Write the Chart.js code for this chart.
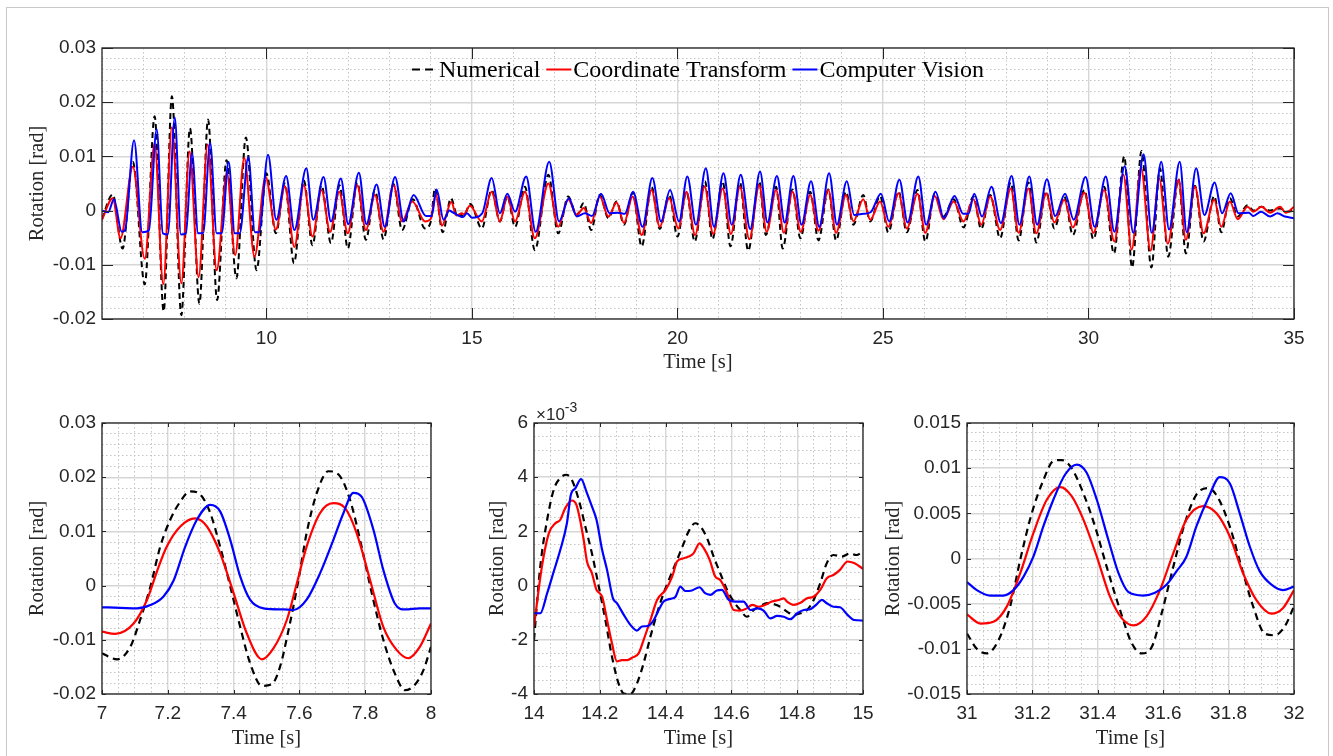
<!DOCTYPE html>
<html>
<head>
<meta charset="utf-8">
<script src="https://cdn.jsdelivr.net/npm/chart.js@4.4.1/dist/chart.umd.min.js"></script>
<style>
  html, body { margin: 0; padding: 0; background: #fff; }
  #fig { position: relative; width: 1333px; height: 756px; overflow: hidden; background: #fff; }
  #frame { position: absolute; left: 6px; top: 7px; width: 1323px; height: 800px; border: 1px solid #c8c8c8; box-sizing: border-box; }
  canvas { position: absolute; }
</style>
</head>
<body>
<div id="fig">
  <div id="frame"></div>
  <canvas id="cTop" width="1333" height="380" style="left:0;top:0"></canvas>
  <canvas id="c1" width="450" height="376" style="left:0;top:380px"></canvas>
  <canvas id="c2" width="440" height="376" style="left:450px;top:380px"></canvas>
  <canvas id="c3" width="453" height="376" style="left:880px;top:380px"></canvas>
</div>
<script>
// ---------- legend labels ----------
const seriesNames = ['Numerical', 'Coordinate Transform', 'Computer Vision'];

// ---------- full record, 6-35 s (peaks and troughs) ----------
const topNumT = [6.00,6.26,6.50,6.75,7.04,7.28,7.50,7.70,7.93,8.14,8.37,8.58,8.80,9.03,9.27,9.50,9.76,10.00,10.23,10.45,10.67,10.91,11.12,11.34,11.57,11.78,11.98,12.21,12.42,12.64,12.85,13.09,13.30,13.56,13.86,14.00,14.10,14.29,14.49,14.65,14.71,14.79,14.96,15.24,15.48,15.68,15.86,16.05,16.29,16.53,16.86,17.10,17.34,17.55,17.72,17.90,18.11,18.32,18.52,18.70,18.91,19.13,19.37,19.57,19.80,20.00,20.22,20.42,20.67,20.85,21.10,21.29,21.52,21.72,21.99,22.15,22.40,22.56,22.80,22.99,23.23,23.43,23.67,23.86,24.10,24.28,24.52,24.69,24.93,25.13,25.38,25.58,25.84,26.03,26.26,26.47,26.72,26.96,27.20,27.39,27.61,27.85,28.11,28.30,28.54,28.73,28.97,29.17,29.41,29.62,29.90,30.12,30.38,30.62,30.87,31.06,31.29,31.53,31.74,31.94,32.19,32.37,32.59,32.80,33.06,33.23,33.44,33.63,33.87,34.01,34.21,34.42,34.66,34.85,35.00];
const topNumV = [-0.0015,0.0030,-0.0070,0.0090,-0.0136,0.0174,-0.0186,0.0211,-0.0193,0.0152,-0.0172,0.0168,-0.0165,0.0093,-0.0125,0.0135,-0.0110,0.0069,-0.0042,0.0050,-0.0097,0.0056,-0.0064,0.0047,-0.0060,0.0047,-0.0070,0.0052,-0.0054,0.0038,-0.0053,0.0049,-0.0036,0.0021,-0.0033,-0.0020,0.0041,-0.0040,0.0023,-0.0011,-0.0007,-0.0011,0.0012,-0.0033,0.0038,-0.0020,0.0026,-0.0030,0.0044,-0.0073,0.0066,-0.0042,0.0026,-0.0008,0.0014,-0.0036,0.0029,-0.0014,0.0017,-0.0026,0.0033,-0.0066,0.0044,-0.0034,0.0029,-0.0048,0.0035,-0.0057,0.0054,-0.0053,0.0054,-0.0066,0.0052,-0.0074,0.0054,-0.0045,0.0044,-0.0070,0.0039,-0.0051,0.0035,-0.0055,0.0039,-0.0055,0.0035,-0.0026,0.0029,-0.0020,0.0027,-0.0040,0.0035,-0.0040,0.0038,-0.0057,0.0031,-0.0011,0.0021,-0.0031,0.0026,-0.0034,0.0029,-0.0051,0.0052,-0.0055,0.0052,-0.0059,0.0035,-0.0033,0.0026,-0.0045,0.0038,-0.0053,0.0044,-0.0079,0.0100,-0.0105,0.0110,-0.0105,0.0078,-0.0085,0.0058,-0.0079,0.0046,-0.0057,0.0027,-0.0040,0.0023,-0.0011,0.0010,0.0000,0.0007,0.0000,0.0004,-0.0002,0.0000];

const topCtT = [6.00,6.26,6.45,6.75,7.04,7.28,7.49,7.70,7.93,8.13,8.35,8.57,8.79,9.04,9.24,9.46,9.71,9.98,10.23,10.45,10.68,10.91,11.12,11.34,11.55,11.77,11.98,12.21,12.42,12.64,12.85,13.09,13.30,13.55,13.86,14.00,14.12,14.27,14.50,14.62,14.76,14.80,14.95,15.24,15.48,15.68,15.86,16.05,16.29,16.53,16.86,17.10,17.34,17.55,17.72,17.90,18.11,18.32,18.52,18.70,18.91,19.13,19.37,19.57,19.80,20.02,20.22,20.43,20.66,20.87,21.10,21.30,21.52,21.75,21.99,22.17,22.40,22.59,22.80,23.00,23.23,23.43,23.67,23.86,24.10,24.28,24.52,24.69,24.93,25.13,25.38,25.58,25.84,26.03,26.26,26.47,26.72,26.96,27.20,27.39,27.61,27.85,28.11,28.30,28.54,28.73,28.97,29.17,29.41,29.62,29.90,30.12,30.38,30.63,30.85,31.05,31.28,31.51,31.72,31.93,32.19,32.37,32.59,32.80,33.06,33.23,33.44,33.63,33.87,34.01,34.21,34.42,34.66,34.80,35.00];
const topCtV = [-0.0017,0.0023,-0.0051,0.0081,-0.0089,0.0124,-0.0136,0.0154,-0.0134,0.0109,-0.0123,0.0122,-0.0110,0.0070,-0.0082,0.0097,-0.0085,0.0062,-0.0035,0.0045,-0.0067,0.0047,-0.0048,0.0038,-0.0039,0.0035,-0.0042,0.0047,-0.0036,0.0029,-0.0039,0.0047,-0.0020,0.0017,-0.0020,-0.0015,0.0031,-0.0028,0.0016,-0.0009,-0.0005,-0.0007,0.0009,-0.0020,0.0035,-0.0020,0.0026,-0.0020,0.0035,-0.0051,0.0050,-0.0030,0.0021,-0.0008,0.0005,-0.0023,0.0026,-0.0011,0.0015,-0.0023,0.0026,-0.0045,0.0038,-0.0030,0.0023,-0.0033,0.0035,-0.0045,0.0044,-0.0043,0.0041,-0.0043,0.0044,-0.0053,0.0047,-0.0039,0.0038,-0.0041,0.0035,-0.0039,0.0029,-0.0037,0.0038,-0.0041,0.0029,-0.0020,0.0021,-0.0017,0.0017,-0.0030,0.0032,-0.0033,0.0031,-0.0041,0.0027,-0.0016,0.0017,-0.0020,0.0021,-0.0026,0.0026,-0.0036,0.0041,-0.0041,0.0041,-0.0042,0.0032,-0.0022,0.0020,-0.0031,0.0033,-0.0041,0.0038,-0.0057,0.0066,-0.0072,0.0079,-0.0074,0.0059,-0.0061,0.0057,-0.0054,0.0044,-0.0042,0.0020,-0.0030,0.0017,-0.0016,0.0007,-0.0002,0.0007,-0.0004,0.0007,-0.0004,0.0007];

const topCvT = [6.00,6.15,6.29,6.48,6.56,6.78,6.98,7.14,7.33,7.48,7.60,7.77,7.92,8.04,8.19,8.34,8.46,8.63,8.79,8.91,9.08,9.23,9.35,9.56,9.72,9.82,10.04,10.24,10.48,10.68,10.97,11.14,11.39,11.57,11.81,11.99,12.25,12.43,12.68,12.88,13.13,13.34,13.58,13.88,14.02,14.14,14.31,14.45,14.53,14.78,14.88,15.00,15.25,15.48,15.68,15.86,16.05,16.32,16.55,16.88,17.12,17.36,17.55,17.75,17.92,18.14,18.35,18.55,18.72,18.92,19.15,19.39,19.60,19.82,20.04,20.24,20.45,20.69,20.89,21.12,21.32,21.54,21.77,22.01,22.19,22.42,22.61,22.82,23.02,23.25,23.45,23.69,23.88,24.12,24.30,24.52,24.70,24.95,25.15,25.40,25.60,25.86,26.05,26.28,26.48,26.74,26.95,27.08,27.22,27.41,27.64,27.87,28.13,28.32,28.56,28.75,28.99,29.19,29.43,29.64,29.93,30.15,30.42,30.63,30.88,31.09,31.34,31.54,31.77,31.96,32.22,32.39,32.62,32.82,33.07,33.25,33.46,33.65,33.90,34.01,34.20,34.42,34.60,34.78,35.00];
const topCvV = [0.0000,-0.0003,0.0021,-0.0039,-0.0036,0.0130,-0.0040,-0.0037,0.0150,-0.0042,-0.0044,0.0172,-0.0044,-0.0042,0.0106,-0.0042,-0.0042,0.0125,-0.0042,-0.0042,0.0090,-0.0042,-0.0042,0.0099,-0.0040,-0.0040,0.0103,-0.0017,0.0064,-0.0036,0.0078,-0.0017,0.0062,-0.0020,0.0059,-0.0025,0.0070,-0.0025,0.0048,-0.0030,0.0062,-0.0020,0.0029,-0.0010,-0.0010,0.0039,-0.0017,0.0000,-0.0003,-0.0012,-0.0005,-0.0013,-0.0005,0.0060,-0.0005,0.0031,-0.0002,0.0063,-0.0039,0.0090,-0.0020,0.0023,-0.0011,-0.0005,-0.0010,0.0031,-0.0005,-0.0004,-0.0006,0.0035,-0.0030,0.0060,-0.0020,0.0038,-0.0020,0.0063,-0.0026,0.0078,-0.0030,0.0069,-0.0026,0.0066,-0.0034,0.0072,-0.0022,0.0064,-0.0022,0.0064,-0.0026,0.0054,-0.0030,0.0069,-0.0026,0.0054,-0.0008,-0.0006,-0.0003,0.0031,-0.0020,0.0057,-0.0022,0.0063,-0.0026,0.0035,-0.0014,0.0027,-0.0006,-0.0006,0.0031,-0.0011,0.0044,-0.0023,0.0064,-0.0026,0.0063,-0.0026,0.0058,-0.0010,0.0031,-0.0017,0.0062,-0.0030,0.0063,-0.0039,0.0082,-0.0041,0.0104,-0.0041,0.0090,-0.0035,0.0090,-0.0040,0.0078,-0.0008,0.0052,-0.0005,0.0032,-0.0005,-0.0004,-0.0010,-0.0002,-0.0011,-0.0005,-0.0011,-0.0014];

// ---------- window 7-8 s ----------
const w1NumT = [7.0,7.046,7.086,7.116,7.147,7.177,7.207,7.238,7.268,7.299,7.329,7.359,7.39,7.42,7.45,7.486,7.516,7.541,7.567,7.597,7.622,7.653,7.688,7.719,7.754,7.789,7.82,7.855,7.89,7.921,7.951,7.977,8.0];
const w1NumV = [-0.0125,-0.0136,-0.0113,-0.0063,-0.0002,0.0072,0.0121,0.0155,0.0174,0.0168,0.0134,0.0072,-0.0002,-0.0076,-0.0143,-0.0185,-0.0182,-0.015,-0.0082,0.001,0.0097,0.0171,0.0211,0.0205,0.0158,0.0072,-0.0014,-0.01,-0.0162,-0.0193,-0.0183,-0.0156,-0.0113];
const w1CtT = [7.0,7.04,7.096,7.137,7.167,7.197,7.238,7.283,7.319,7.359,7.4,7.44,7.486,7.521,7.562,7.592,7.622,7.663,7.703,7.739,7.774,7.815,7.855,7.896,7.931,7.966,8.0];
const w1CtV = [-0.0085,-0.0089,-0.007,-0.0026,0.0026,0.0072,0.0109,0.0124,0.0109,0.006,-0.0014,-0.0088,-0.0136,-0.0116,-0.0063,0.0004,0.0072,0.0134,0.0152,0.0143,0.0097,0.001,-0.0076,-0.0119,-0.0134,-0.0113,-0.007];
const w1CvT = [7.0,7.056,7.106,7.147,7.187,7.218,7.253,7.288,7.329,7.359,7.39,7.42,7.45,7.491,7.552,7.582,7.622,7.663,7.703,7.734,7.764,7.789,7.825,7.855,7.89,7.921,7.966,8.0];
const w1CvV = [-0.004,-0.0041,-0.0042,-0.0036,-0.002,0.001,0.0072,0.0121,0.0149,0.0137,0.0084,0.0017,-0.0026,-0.0042,-0.0044,-0.0045,-0.0026,0.0023,0.0084,0.0134,0.0171,0.0164,0.0103,0.0029,-0.0033,-0.0044,-0.0042,-0.0042];

// ---------- window 14-15 s ----------
const w2NumT = [14.0,14.019,14.04,14.06,14.08,14.098,14.115,14.136,14.156,14.176,14.197,14.217,14.237,14.257,14.273,14.293,14.313,14.333,14.354,14.374,14.394,14.414,14.435,14.455,14.47,14.49,14.506,14.526,14.546,14.566,14.587,14.607,14.627,14.647,14.668,14.688,14.708,14.728,14.749,14.769,14.789,14.81,14.83,14.85,14.87,14.89,14.91,14.936,14.96,14.98,15.0];
const w2NumV = [-0.00200,0.00070,0.00243,0.00354,0.00397,0.00409,0.00390,0.00317,0.00218,0.00119,-0.00004,-0.00127,-0.00262,-0.00361,-0.00398,-0.00400,-0.00361,-0.00287,-0.00188,-0.00102,-0.00028,0.00033,0.00095,0.00156,0.00200,0.00230,0.00218,0.00175,0.00107,0.00046,-0.00016,-0.00059,-0.00090,-0.00115,-0.00090,-0.00075,-0.00065,-0.00068,-0.00078,-0.00096,-0.00108,-0.00102,-0.00090,-0.00053,0.00009,0.00083,0.00113,0.00107,0.00119,0.00113,0.00126];
const w2CtT = [14.0,14.024,14.045,14.065,14.08,14.095,14.115,14.129,14.14,14.151,14.161,14.176,14.19,14.207,14.222,14.237,14.252,14.267,14.283,14.3,14.318,14.333,14.354,14.374,14.4,14.42,14.435,14.455,14.47,14.485,14.503,14.516,14.534,14.551,14.566,14.587,14.607,14.627,14.647,14.663,14.683,14.703,14.723,14.744,14.759,14.769,14.789,14.81,14.83,14.85,14.87,14.89,14.91,14.93,14.953,14.973,15.0];
const w2CtV = [-0.00150,0.00070,0.00193,0.00230,0.00243,0.00286,0.00314,0.00298,0.00243,0.00169,0.00089,0.00046,-0.00016,-0.00041,-0.00127,-0.00213,-0.00280,-0.00275,-0.00275,-0.00265,-0.00250,-0.00201,-0.00127,-0.00053,-0.00016,0.00033,0.00089,0.00101,0.00107,0.00119,0.00156,0.00138,0.00095,0.00033,0.00021,-0.00028,-0.00090,-0.00092,-0.00084,-0.00071,-0.00078,-0.00071,-0.00059,-0.00053,-0.00047,-0.00059,-0.00071,-0.00063,-0.00047,-0.00041,-0.00016,0.00027,0.00039,0.00058,0.00089,0.00083,0.00062];
const w2CvT = [14.0,14.019,14.04,14.06,14.08,14.1,14.112,14.126,14.143,14.161,14.176,14.19,14.207,14.222,14.24,14.252,14.273,14.293,14.313,14.328,14.345,14.364,14.379,14.394,14.414,14.43,14.445,14.46,14.48,14.503,14.52,14.536,14.556,14.571,14.592,14.612,14.637,14.658,14.678,14.698,14.718,14.739,14.759,14.779,14.8,14.82,14.84,14.86,14.875,14.89,14.91,14.93,14.953,14.973,15.0];
const w2CvV = [-0.00102,-0.00102,-0.00028,0.00052,0.00132,0.00230,0.00335,0.00360,0.00393,0.00341,0.00292,0.00243,0.00132,0.00058,-0.00047,-0.00065,-0.00108,-0.00145,-0.00166,-0.00151,-0.00149,-0.00127,-0.00090,-0.00059,-0.00049,-0.00041,-0.00004,-0.00020,-0.00018,-0.00006,-0.00028,-0.00034,-0.00018,-0.00016,-0.00053,-0.00059,-0.00059,-0.00090,-0.00084,-0.00092,-0.00121,-0.00112,-0.00115,-0.00124,-0.00102,-0.00090,-0.00087,-0.00068,-0.00053,-0.00065,-0.00078,-0.00080,-0.00108,-0.00127,-0.00129];

// ---------- window 31-32 s ----------
const w3NumT = [31.0,31.03,31.061,31.097,31.132,31.163,31.198,31.234,31.264,31.29,31.32,31.356,31.392,31.427,31.468,31.504,31.534,31.565,31.595,31.631,31.666,31.702,31.738,31.768,31.804,31.839,31.875,31.91,31.941,31.972,32.0];
const w3NumV = [-0.0083,-0.01,-0.0105,-0.009,-0.0053,-0.0001,0.005,0.0087,0.0108,0.0109,0.01,0.0072,0.0035,-0.0009,-0.0057,-0.0094,-0.0105,-0.0098,-0.0061,-0.0009,0.0039,0.0071,0.0078,0.0067,0.0035,-0.0009,-0.0053,-0.0083,-0.0085,-0.0075,-0.0053];
const w3CtT = [31.0,31.041,31.081,31.122,31.163,31.203,31.244,31.285,31.32,31.356,31.397,31.437,31.473,31.509,31.549,31.59,31.631,31.671,31.722,31.763,31.804,31.844,31.885,31.931,31.966,32.0];
const w3CtV = [-0.0062,-0.0072,-0.007,-0.0053,-0.0016,0.0028,0.0065,0.0079,0.0069,0.0043,0.0002,-0.0042,-0.0066,-0.0074,-0.0064,-0.0035,0.0006,0.0043,0.0058,0.005,0.0024,-0.0016,-0.0046,-0.0061,-0.0055,-0.0035];
const w3CvT = [31.0,31.03,31.071,31.112,31.142,31.173,31.203,31.234,31.264,31.3,31.336,31.366,31.397,31.432,31.463,31.493,31.539,31.575,31.61,31.641,31.671,31.702,31.738,31.773,31.804,31.834,31.865,31.895,31.931,31.966,32.0];
const w3CvV = [-0.0026,-0.0035,-0.0041,-0.0041,-0.0035,-0.002,0.0002,0.0036,0.0065,0.0093,0.0104,0.0095,0.0065,0.0021,-0.0016,-0.0037,-0.0041,-0.0038,-0.0029,-0.0014,0.0002,0.0036,0.0067,0.009,0.0083,0.005,0.0013,-0.0014,-0.0029,-0.0035,-0.0031];

// ---------- axis limits and tick spacing ----------
const topXRange = [6, 35],   topXMinor = 1,    topXMajor = 5;
const topYRange = [-0.02, 0.03], topYMinor = 0.002, topYMajor = 0.01;
const w1XRange = [7, 8],     w2XRange = [14, 15], w3XRange = [31, 32];
const winXMinor = 0.05,      winXMajor = 0.2;
const w1YRange = [-0.02, 0.03],   w1YMinor = 0.002,  w1YMajor = 0.01;
const w2YRange = [-0.004, 0.006], w2YMinor = 0.0005, w2YMajor = 0.002;
const w3YRange = [-0.015, 0.015], w3YMinor = 0.001,  w3YMajor = 0.005;

// ---------- styling ----------
const SANS = "'Liberation Sans', Arial, Helvetica, sans-serif";
const SERIF = "'Liberation Serif', 'Times New Roman', serif";
const AXIS_COLOR = '#262626';
const GRID_MAJOR = '#d6d6d6';
const GRID_MINOR = '#c4c4c4';
const COLORS = ['#000000', '#ff0000', '#0000ff'];

Chart.defaults.font.family = SANS;
Chart.defaults.color = AXIS_COLOR;

const pts = (ts, vs) => ts.map((t, i) => ({ x: t, y: vs[i] }));

function stepTicks(lo, hi, step) {
  const n = Math.round((hi - lo) / step);
  const out = [];
  for (let i = 0; i <= n; i++) out.push({ value: +(lo + i * step).toFixed(8) });
  return out;
}
function onStep(v, step) {
  if (v === undefined || v === null) return true;
  const r = v / step;
  return Math.abs(r - Math.round(r)) < 1e-6;
}

function datasets(numT, numV, ctT, ctV, cvT, cvV, width, dash) {
  const base = { pointRadius: 0, fill: false, borderWidth: width, cubicInterpolationMode: 'monotone', tension: 0.4 };
  return [
    Object.assign({ label: seriesNames[0], data: pts(numT, numV), borderColor: COLORS[0], borderDash: dash, order: 3 }, base),
    Object.assign({ label: seriesNames[1], data: pts(ctT, ctV), borderColor: COLORS[1], order: 2 }, base),
    Object.assign({ label: seriesNames[2], data: pts(cvT, cvV), borderColor: COLORS[2], order: 1 }, base)
  ];
}

function axis(o) {
  return {
    type: 'linear',
    position: o.position,
    min: o.range[0],
    max: o.range[1],
    afterBuildTicks: s => { s.ticks = stepTicks(o.range[0], o.range[1], o.minor); },
    afterFit: s => { if (o.position === 'left') s.width = o.size; else s.height = o.size; },
    grid: {
      drawTicks: false,
      color: c => onStep(c.tick && c.tick.value, o.major) ? GRID_MAJOR : GRID_MINOR,
      lineWidth: c => onStep(c.tick && c.tick.value, o.major) ? 1.4 : 1
    },
    border: {
      display: false,
      dash: c => (c.tick && !onStep(c.tick.value, o.major)) ? [1.5, 2.5] : []
    },
    ticks: {
      autoSkip: false,
      maxRotation: 0,
      minRotation: 0,
      padding: o.labelPad,
      color: AXIS_COLOR,
      font: { family: SANS, size: 19 },
      callback: v => onStep(v, o.major) ? o.fmt(v) : ''
    },
    title: {
      display: true,
      text: o.title,
      color: AXIS_COLOR,
      font: { family: SERIF, size: 20.5 },
      padding: o.position === 'left' ? { top: o.titlePad, bottom: 0 } : { top: 0, bottom: o.titlePad }
    },
    _major: o.major,
    _tickLen: o.tickLen
  };
}

// Axes box with inward major tick marks on all four sides
const boxPlugin = {
  id: 'boxPlugin',
  afterDatasetsDraw(chart) {
    const { ctx, chartArea: a, scales } = chart;
    ctx.save();
    ctx.strokeStyle = AXIS_COLOR;
    ctx.lineWidth = 1;
    const xs = scales.x, ys = scales.y;
    const L = xs.options._tickLen;
    ctx.beginPath();
    xs.ticks.forEach(t => {
      if (!onStep(t.value, xs.options._major)) return;
      const p = Math.round(xs.getPixelForValue(t.value)) + 0.5;
      ctx.moveTo(p, a.bottom); ctx.lineTo(p, a.bottom - L);
      ctx.moveTo(p, a.top); ctx.lineTo(p, a.top + L);
    });
    ys.ticks.forEach(t => {
      if (!onStep(t.value, ys.options._major)) return;
      const p = Math.round(ys.getPixelForValue(t.value)) + 0.5;
      ctx.moveTo(a.left, p); ctx.lineTo(a.left + L, p);
      ctx.moveTo(a.right, p); ctx.lineTo(a.right - L, p);
    });
    ctx.stroke();
    ctx.lineWidth = 1.3;
    ctx.strokeRect(a.left, a.top, a.right - a.left, a.bottom - a.top);
    ctx.restore();
  }
};

// Line-sample legend centred along the top of the plotting area
const innerLegend = {
  id: 'innerLegend',
  afterDraw(chart, args, opts) {
    if (!opts || !opts.show) return;
    const { ctx, chartArea: a } = chart;
    ctx.save();
    ctx.font = '24px ' + SERIF;
    const sample = 25, gapS = 2, gapI = 6;
    const items = chart.data.datasets.map(d => ({ text: d.label, color: d.borderColor, dash: d.borderDash || [], w: ctx.measureText(d.label).width }));
    const total = items.reduce((s, it) => s + sample + gapS + it.w, 0) + gapI * (items.length - 1);
    let x = (a.left + a.right) / 2 - total / 2;
    const yLine = a.top + 21.5, yText = a.top + 29;
    items.forEach(it => {
      ctx.strokeStyle = it.color;
      ctx.lineWidth = 2;
      ctx.setLineDash(it.dash.length ? [8, 5] : []);
      ctx.beginPath(); ctx.moveTo(x, yLine); ctx.lineTo(x + sample, yLine); ctx.stroke();
      ctx.setLineDash([]);
      ctx.fillStyle = '#000';
      ctx.textBaseline = 'alphabetic';
      ctx.fillText(it.text, x + sample + gapS, yText);
      x += sample + gapS + it.w + gapI;
    });
    ctx.restore();
  }
};

// Axis multiplier written above the y axis
const exponentLabel = {
  id: 'exponentLabel',
  afterDraw(chart, args, opts) {
    if (!opts || !opts.show) return;
    const { ctx, chartArea: a } = chart;
    ctx.save();
    ctx.fillStyle = AXIS_COLOR;
    ctx.textBaseline = 'alphabetic';
    ctx.font = '17px ' + SANS;
    const base = '\u00d710';
    ctx.fillText(base, a.left + 2, a.top - 3);
    const w = ctx.measureText(base).width;
    ctx.font = '14px ' + SANS;
    ctx.fillText('-3', a.left + 2 + w, a.top - 11.5);
    ctx.restore();
  }
};

const fmtInt = v => String(Math.round(v));
const fmt1 = v => String(+v.toFixed(1));
const fmtRad = v => (Math.abs(v) < 1e-12 ? '0' : String(+v.toFixed(4)));
const fmtMilli = v => String(Math.round(v * 1000));

function build(id, cfg) {
  return new Chart(document.getElementById(id), {
    type: 'line',
    data: { datasets: cfg.sets },
    options: {
      responsive: false,
      animation: false,
      devicePixelRatio: 1,
      events: [],
      layout: { padding: cfg.pad },
      scales: { x: cfg.x, y: cfg.y },
      plugins: {
        legend: { display: false },
        tooltip: { enabled: false },
        innerLegend: { show: !!cfg.legend },
        exponentLabel: { show: !!cfg.exponent }
      }
    },
    plugins: [boxPlugin, innerLegend, exponentLabel]
  });
}

// full record
build('cTop', {
  sets: datasets(topNumT, topNumV, topCtT, topCtV, topCvT, topCvV, 2, [6, 4]),
  pad: { left: 0, top: 48, right: 39, bottom: 0 },
  x: axis({ position: 'bottom', range: topXRange, minor: topXMinor, major: topXMajor, fmt: fmtInt, title: 'Time [s]', size: 61, labelPad: 8, titlePad: 5, tickLen: 11 }),
  y: axis({ position: 'left', range: topYRange, minor: topYMinor, major: topYMajor, fmt: fmtRad, title: 'Rotation [rad]', size: 102, labelPad: 6, titlePad: 25.7, tickLen: 11 }),
  legend: true
});

// 7-8 s
build('c1', {
  sets: datasets(w1NumT, w1NumV, w1CtT, w1CtV, w1CvT, w1CvV, 2.2, [7, 5]),
  pad: { left: 0, top: 43, right: 19, bottom: 0 },
  x: axis({ position: 'bottom', range: w1XRange, minor: winXMinor, major: winXMajor, fmt: fmt1, title: 'Time [s]', size: 62, labelPad: 8, titlePad: 5, tickLen: 4 }),
  y: axis({ position: 'left', range: w1YRange, minor: w1YMinor, major: w1YMajor, fmt: fmtRad, title: 'Rotation [rad]', size: 102, labelPad: 6, titlePad: 25.7, tickLen: 4 })
});

// 14-15 s
build('c2', {
  sets: datasets(w2NumT, w2NumV, w2CtT, w2CtV, w2CvT, w2CvV, 2.2, [7, 5]),
  pad: { left: 0, top: 43, right: 27, bottom: 0 },
  x: axis({ position: 'bottom', range: w2XRange, minor: winXMinor, major: winXMajor, fmt: fmt1, title: 'Time [s]', size: 62, labelPad: 8, titlePad: 5, tickLen: 4 }),
  y: axis({ position: 'left', range: w2YRange, minor: w2YMinor, major: w2YMajor, fmt: fmtMilli, title: 'Rotation [rad]', size: 84, labelPad: 6, titlePad: 35.7, tickLen: 4 }),
  exponent: true
});

// 31-32 s
build('c3', {
  sets: datasets(w3NumT, w3NumV, w3CtT, w3CtV, w3CvT, w3CvV, 2.2, [7, 5]),
  pad: { left: 0, top: 43, right: 39, bottom: 0 },
  x: axis({ position: 'bottom', range: w3XRange, minor: winXMinor, major: winXMajor, fmt: fmt1, title: 'Time [s]', size: 62, labelPad: 8, titlePad: 5, tickLen: 4 }),
  y: axis({ position: 'left', range: w3YRange, minor: w3YMinor, major: w3YMajor, fmt: fmtRad, title: 'Rotation [rad]', size: 87, labelPad: 6, titlePad: 1, tickLen: 4 })
});
</script>
</body>
</html>
